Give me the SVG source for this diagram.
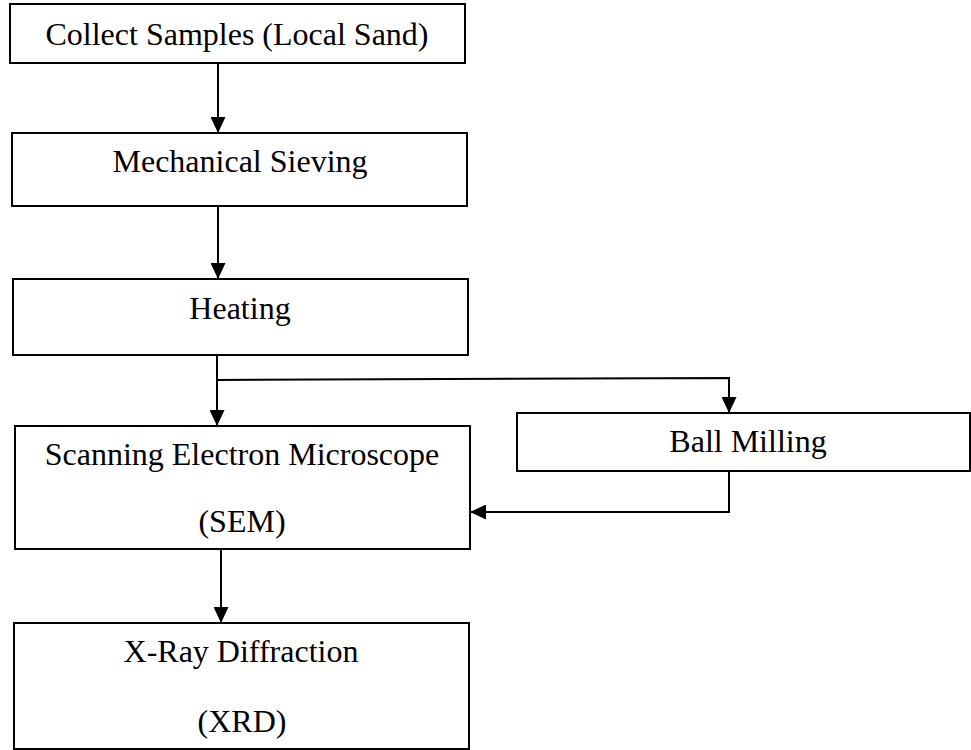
<svg xmlns="http://www.w3.org/2000/svg" width="971" height="750" viewBox="0 0 971 750">
  <style>
    .box { fill: #ffffff; stroke: #000000; stroke-width: 2; }
    .label { font-family: "Liberation Serif", "Times New Roman", serif; font-size: 32px; fill: #000000; text-anchor: middle; }
    .wire { fill: none; stroke: #000000; stroke-width: 2; }
  </style>
  <defs>
    <marker id="arrow" markerUnits="userSpaceOnUse" markerWidth="16" markerHeight="15" refX="16" refY="7.5" orient="auto">
      <path d="M0,0 L16,7.5 L0,15 z" fill="#000000"/>
    </marker>
  </defs>
  <rect width="971" height="750" fill="#ffffff"/>

  <g id="collect">
    <rect class="box" x="10" y="4" width="455" height="59"/>
    <text class="label" x="237" y="45">Collect Samples (Local Sand)</text>
  </g>

  <g id="sieving">
    <rect class="box" x="12" y="133" width="455" height="73"/>
    <text class="label" x="240" y="172">Mechanical Sieving</text>
  </g>

  <g id="heating">
    <rect class="box" x="13" y="279" width="455" height="76"/>
    <text class="label" x="240" y="319">Heating</text>
  </g>

  <g id="sem">
    <rect class="box" x="15" y="426" width="455" height="123"/>
    <text class="label" x="242" y="465">Scanning Electron Microscope</text>
    <text class="label" x="242" y="532">(SEM)</text>
  </g>

  <g id="ball-milling">
    <rect class="box" x="517" y="413" width="453" height="58"/>
    <text class="label" x="748" y="452">Ball Milling</text>
  </g>

  <g id="xrd">
    <rect class="box" x="14" y="623" width="455" height="126"/>
    <text class="label" x="241" y="662">X-Ray Diffraction</text>
    <text class="label" x="242" y="732">(XRD)</text>
  </g>

  <g id="connectors">
    <path class="wire" d="M218,63 L218,133" marker-end="url(#arrow)"/>
    <path class="wire" d="M218,206 L218,279" marker-end="url(#arrow)"/>
    <path class="wire" d="M217,355 L217,426" marker-end="url(#arrow)"/>
    <path class="wire" d="M217,380 L729,378 L729,413" marker-end="url(#arrow)"/>
    <path class="wire" d="M729,471 L729,512 L470,512" marker-end="url(#arrow)"/>
    <path class="wire" d="M221,549 L221,623" marker-end="url(#arrow)"/>
  </g>
</svg>
